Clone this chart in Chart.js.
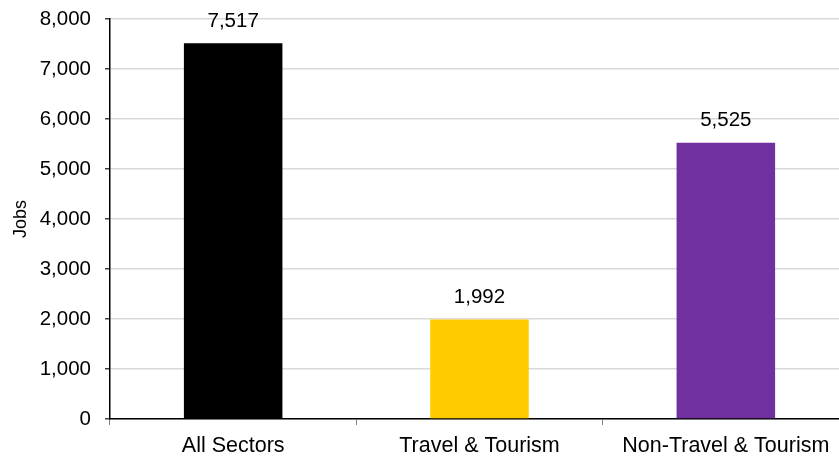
<!DOCTYPE html>
<html>
<head>
<meta charset="utf-8">
<script src="https://cdn.jsdelivr.net/npm/chart.js@4/dist/chart.umd.min.js"></script>
<style>
    html, body { margin: 0; padding: 0; background: #fff; overflow: hidden; }
    #wrap { position: relative; width: 849px; height: 458px; }
</style>
</head>
<body>
<div id="wrap"><canvas id="jobsChart"></canvas></div>
<script>
// Chart data
const categories = ['All Sectors', 'Travel & Tourism', 'Non-Travel & Tourism'];
const jobs = [7517, 1992, 5525];
const barColors = ['#000000', '#FFCC00', '#7030A0'];
const yTicks = [0, 1000, 2000, 3000, 4000, 5000, 6000, 7000, 8000];

const FONT = 'Liberation Sans, Arial, sans-serif';

// Draws the value above each bar
const valueLabels = {
    id: 'valueLabels',
    afterDatasetsDraw(chart) {
        const ctx = chart.ctx;
        const meta = chart.getDatasetMeta(0);
        ctx.save();
        ctx.font = `20.5px ${FONT}`;
        ctx.fillStyle = '#000';
        ctx.textAlign = 'center';
        ctx.textBaseline = 'middle';
        meta.data.forEach((bar, i) => {
            ctx.fillText(jobs[i].toLocaleString('en-US'), bar.x, bar.y - 22);
        });
        ctx.restore();
    }
};

new Chart(document.getElementById('jobsChart'), {
    type: 'bar',
    data: {
        labels: categories,
        datasets: [{
            data: jobs,
            backgroundColor: barColors,
            borderWidth: 0,
            barPercentage: 0.4,
            categoryPercentage: 1
        }]
    },
    options: {
        responsive: true,
        maintainAspectRatio: false,
        animation: false,
        layout: { padding: { top: 19, right: 0, bottom: 0, left: 0 } },
        plugins: {
            legend: { display: false },
            tooltip: { enabled: false }
        },
        scales: {
            x: {
                offset: true,
                grid: {
                    offset: true,
                    drawOnChartArea: false,
                    drawTicks: true,
                    tickLength: 6,
                    tickColor: '#808080'
                },
                border: { color: '#000', width: 1.5 },
                ticks: {
                    color: '#000',
                    padding: 8,
                    maxRotation: 0,
                    font: { family: FONT, size: 21.5 }
                },
                afterFit(scale) { scale.height = 39; }
            },
            y: {
                min: 0,
                max: 8000,
                afterBuildTicks(scale) {
                    scale.ticks = yTicks.map(v => ({ value: v }));
                },
                grid: {
                    color: '#d9d9d9',
                    lineWidth: 1.5,
                    tickLength: 5,
                    tickColor: '#404040'
                },
                border: { color: '#000', width: 1.5 },
                ticks: {
                    color: '#000',
                    padding: 14,
                    font: { family: FONT, size: 20.5 },
                    callback: v => v.toLocaleString('en-US')
                },
                title: {
                    display: true,
                    text: 'Jobs',
                    color: '#000',
                    font: { family: FONT, size: 18 },
                    padding: { top: 10, bottom: 0 }
                },
                afterFit(scale) {
                    scale.width = 110;
                    scale.paddingTop = 0;
                    scale.paddingBottom = 0;
                }
            }
        }
    },
    plugins: [valueLabels]
});
</script>
</body>
</html>
